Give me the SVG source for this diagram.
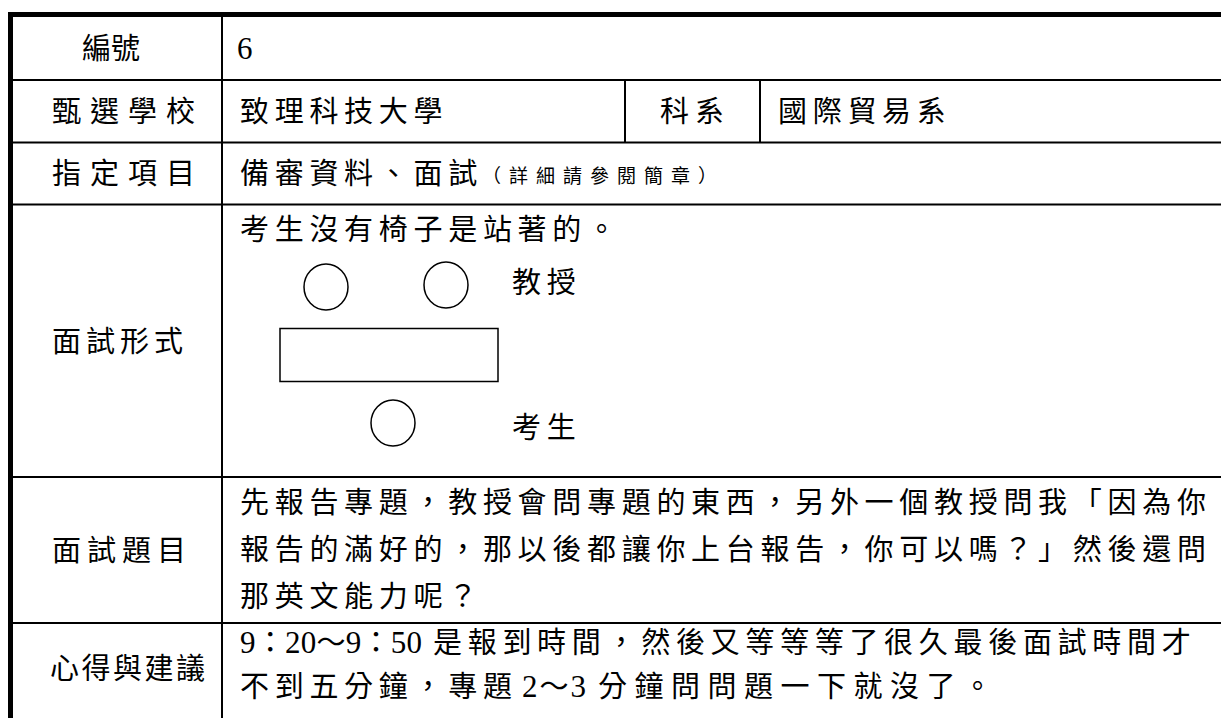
<svg xmlns="http://www.w3.org/2000/svg" width="1221" height="718" viewBox="0 0 1221 718">
<style>
.t{font-family:"Noto Sans CJK TC","Noto Sans CJK SC",sans-serif;font-size:29px;fill:#000;}
.c{letter-spacing:5.7px;}
.n{font-family:"Liberation Serif",serif;font-size:31px;}
.s{font-family:"Noto Sans CJK TC",sans-serif;font-size:19px;letter-spacing:8px;fill:#000;}
.ln{stroke:#000;stroke-width:2;fill:none;}
.bd{stroke:#000;stroke-width:5;fill:none;}
.sh{stroke:#000;stroke-width:1.5;fill:#fff;}
</style>
<rect width="1221" height="718" fill="#fff"/>
<g id="grid">
<line class="ln" x1="222" y1="15" x2="222" y2="718"/>
<line class="ln" x1="11" y1="80" x2="1221" y2="80"/>
<line class="ln" x1="11" y1="142.5" x2="1221" y2="142.5"/>
<line class="ln" x1="11" y1="204.5" x2="1221" y2="204.5"/>
<line class="ln" x1="11" y1="477" x2="1221" y2="477"/>
<line class="ln" x1="11" y1="623" x2="1221" y2="623"/>
<line class="ln" x1="625" y1="80" x2="625" y2="142.5"/>
<line class="ln" x1="760" y1="80" x2="760" y2="142.5"/>
<line class="bd" x1="8" y1="14.5" x2="1221" y2="14.5"/>
<line class="bd" x1="10.5" y1="12" x2="10.5" y2="718"/>
</g>
<g id="row-number">
<text class="t" x="82" y="59" style="letter-spacing:0px">編號</text>
<text class="n" x="237" y="59">6</text>
</g>
<g id="row-school">
<text class="t" x="52" y="122" style="letter-spacing:9px">甄選學校</text>
<text class="t c" x="240" y="122">致理科技大學</text>
<text class="t" x="660" y="122" style="letter-spacing:6px">科系</text>
<text class="t c" x="778" y="122">國際貿易系</text>
</g>
<g id="row-items">
<text class="t" x="52" y="184" style="letter-spacing:9px">指定項目</text>
<text class="t c" x="240" y="184">備審資料、面試</text>
<text class="s" x="482" y="183">（詳細請參閱簡章）</text>
</g>
<g id="row-format">
<text class="t" x="52" y="352" style="letter-spacing:5px">面試形式</text>
<text class="t c" x="240" y="240">考生沒有椅子是站著的。</text>
<ellipse class="sh" cx="326" cy="287" rx="22" ry="23"/>
<ellipse class="sh" cx="446" cy="285" rx="22" ry="23"/>
<rect class="sh" x="280" y="328.5" width="218" height="53"/>
<ellipse class="sh" cx="393" cy="423" rx="22" ry="23"/>
<text class="t c" x="512" y="293">教授</text>
<text class="t c" x="512" y="438">考生</text>
</g>
<g id="row-questions">
<text class="t" x="52" y="561" style="letter-spacing:6px">面試題目</text>
<text class="t c" x="240" y="513">先報告專題，教授會問專題的東西，另外一個教授問我「因為你</text>
<text class="t c" x="240" y="560">報告的滿好的，那以後都讓你上台報告，你可以嗎？」然後還問</text>
<text class="t c" x="240" y="607">那英文能力呢？</text>
</g>
<g id="row-notes">
<text class="t" x="50" y="679" style="letter-spacing:2.5px">心得與建議</text>
<text class="t" x="240" y="653" textLength="182" lengthAdjust="spacing"><tspan class="n">9</tspan>：<tspan class="n">20</tspan>～<tspan class="n">9</tspan>：<tspan class="n">50</tspan></text>
<text class="t c" x="433" y="653">是報到時間，然後又等等等了很久最後面試時間才</text>
<text class="t c" x="240" y="697">不到五分鐘，專題</text>
<text class="t" x="522" y="697" textLength="64" lengthAdjust="spacing"><tspan class="n">2</tspan>～<tspan class="n">3</tspan></text>
<text class="t" x="598" y="697" style="letter-spacing:7.5px">分鐘問問題一下就沒了。</text>
</g>
</svg>
